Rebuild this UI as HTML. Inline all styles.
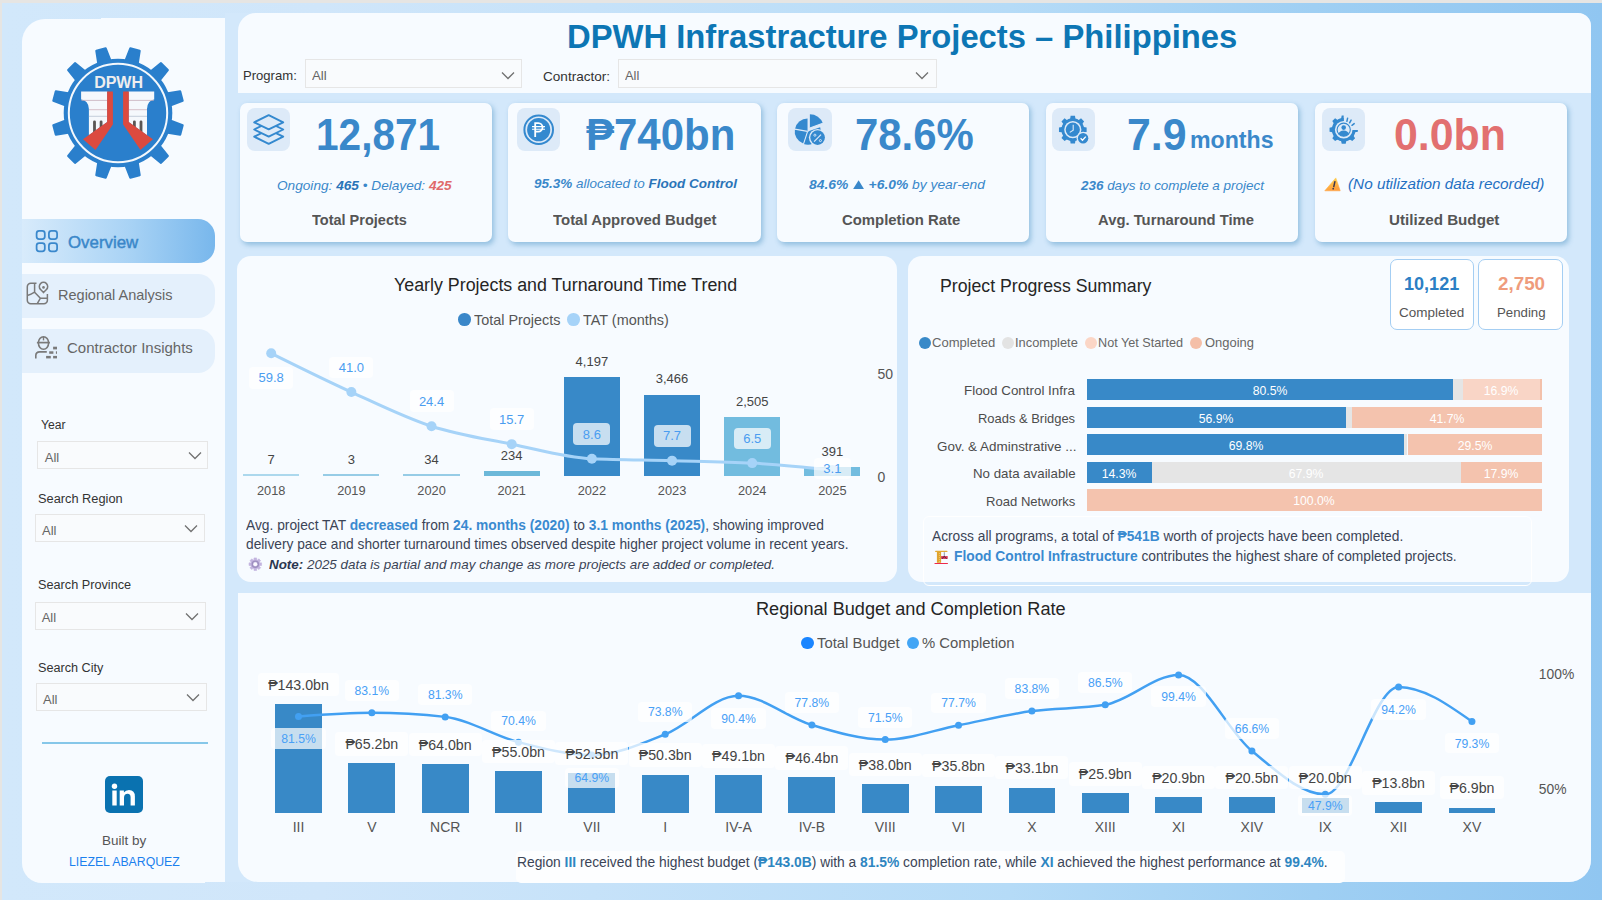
<!DOCTYPE html>
<html><head><meta charset="utf-8"><title>DPWH Infrastructure Projects</title>
<style>
html,body{margin:0;padding:0;width:1602px;height:902px;overflow:hidden;background:#fff}
body{position:relative;font-family:"Liberation Sans", sans-serif}
body>div{position:absolute}
.t{white-space:nowrap}
.t b{font-weight:bold}
</style></head><body>
<div style="left:0.00px;top:0.00px;width:1602.00px;height:902.00px;background:#ffffff"></div>
<div style="left:0.00px;top:0.00px;width:1602.00px;height:3.00px;background:#e6e5e3"></div>
<div style="left:0.00px;top:0.00px;width:2.00px;height:900.00px;background:#e6e5e3"></div>
<div style="left:2.00px;top:3.00px;width:1600.00px;height:897.00px;background:linear-gradient(90deg,#d2e8fb 0%,#d0e6fa 20%,#c6e2f9 37%,#b5dbf7 63%,#9fcff3 82%,#90c6f1 100%)"></div>
<div style="left:22.00px;top:18.90px;width:183.00px;height:864.00px;background:#f7fbff;border-radius:23px 0 0 20px"></div>
<div style="left:100.70px;top:17.90px;width:123.90px;height:863.90px;background:#f7fbff"></div>
<div style="left:224.90px;top:13.00px;width:1366.10px;height:868.50px;background:#d3e8fb;border-radius:0 13px 22px 0"></div>
<div style="left:238.00px;top:13.00px;width:1353.00px;height:80.00px;background:#f7fbff;border-radius:18px 13px 0 0"></div>
<div style="left:238.00px;top:592.50px;width:1353.00px;height:289.50px;background:#f7fbff;border-radius:0 0 22px 20px"></div>
<div class="t" style="left:567.38px;top:21px;font-size:32.5px;line-height:32.5px;color:#0d76b4;font-weight:bold;font-style:normal;transform-origin:0 0;transform:scaleX(1.0085);">DPWH Infrastracture Projects – Philippines</div>
<div class="t" style="left:243.08px;top:70px;font-size:12.8px;line-height:12.8px;color:#333;font-weight:normal;font-style:normal;transform-origin:0 0;transform:scaleX(1.0216);">Program:</div>
<div style="left:305.20px;top:58.90px;width:216.70px;height:28.80px;border:1px solid #e6e6e6;box-sizing:border-box;background:#f9fbfd"></div>
<svg style="position:absolute;left:500.8px;top:70.8px;" width="14" height="9" viewBox="0 0 14 9"><polyline points="1,1.5 7,7.5 13,1.5" fill="none" stroke="#707070" stroke-width="1.25"/></svg>
<div class="t" style="left:312.10px;top:69px;font-size:13.3px;line-height:13.3px;color:#666;font-weight:normal;font-style:normal;transform-origin:0 0;transform:scaleX(0.9929);">All</div>
<div class="t" style="left:542.90px;top:70px;font-size:13.5px;line-height:13.5px;color:#333;font-weight:normal;font-style:normal;transform-origin:0 0;transform:scaleX(1.0046);">Contractor:</div>
<div style="left:617.70px;top:58.90px;width:319.80px;height:28.80px;border:1px solid #e6e6e6;box-sizing:border-box;background:#f9fbfd"></div>
<svg style="position:absolute;left:915.3px;top:70.8px;" width="14" height="9" viewBox="0 0 14 9"><polyline points="1,1.5 7,7.5 13,1.5" fill="none" stroke="#707070" stroke-width="1.25"/></svg>
<div class="t" style="left:624.80px;top:69px;font-size:13.3px;line-height:13.3px;color:#666;font-weight:normal;font-style:normal;transform-origin:0 0;transform:scaleX(0.9643);">All</div>
<div style="left:239.60px;top:103.00px;width:252.40px;height:138.70px;background:#f7fbff;border-radius:7px;box-shadow:2px 2.5px 5px rgba(60,135,185,0.42)"></div>
<div style="left:247.00px;top:108.00px;width:43.40px;height:43.40px;background:#ddeaf8;border-radius:8px"></div>
<div style="left:508.30px;top:103.00px;width:252.40px;height:138.70px;background:#f7fbff;border-radius:7px;box-shadow:2px 2.5px 5px rgba(60,135,185,0.42)"></div>
<div style="left:516.80px;top:108.00px;width:43.40px;height:43.40px;background:#ddeaf8;border-radius:8px"></div>
<div style="left:777.00px;top:103.00px;width:252.40px;height:138.70px;background:#f7fbff;border-radius:7px;box-shadow:2px 2.5px 5px rgba(60,135,185,0.42)"></div>
<div style="left:788.30px;top:108.00px;width:43.40px;height:43.40px;background:#ddeaf8;border-radius:8px"></div>
<div style="left:1046.00px;top:103.00px;width:252.40px;height:138.70px;background:#f7fbff;border-radius:7px;box-shadow:2px 2.5px 5px rgba(60,135,185,0.42)"></div>
<div style="left:1052.10px;top:108.00px;width:43.40px;height:43.40px;background:#ddeaf8;border-radius:8px"></div>
<div style="left:1314.60px;top:103.00px;width:252.40px;height:138.70px;background:#f7fbff;border-radius:7px;box-shadow:2px 2.5px 5px rgba(60,135,185,0.42)"></div>
<div style="left:1322.00px;top:108.00px;width:43.40px;height:43.40px;background:#ddeaf8;border-radius:8px"></div>
<svg style="position:absolute;left:247px;top:108px;" width="44" height="44" viewBox="0 0 44 44"><polygon points="7.2,28.7 21.7,21.6 36.2,28.7 21.7,35.8" fill="#ddeaf8" stroke="#3489cf" stroke-width="1.9" stroke-linejoin="round"/><polygon points="7.2,21.5 21.7,14.4 36.2,21.5 21.7,28.6" fill="#ddeaf8" stroke="#3489cf" stroke-width="1.9" stroke-linejoin="round"/><polygon points="7.2,14.3 21.7,7.2 36.2,14.3 21.7,21.4" fill="#ddeaf8" stroke="#3489cf" stroke-width="1.9" stroke-linejoin="round"/></svg>
<svg style="position:absolute;left:516.8px;top:108px;" width="44" height="44" viewBox="0 0 44 44"><circle cx="21.7" cy="21.7" r="14.3" fill="none" stroke="#3489cf" stroke-width="2"/><circle cx="21.7" cy="21.7" r="11.6" fill="#3489cf"/><path d="M18.2,29.1 V15.1 H21.3 A4.25,4.25 0 0 1 21.3,23.6 H18.2" fill="none" stroke="#fff" stroke-width="1.8"/><path d="M15,18.6 H28 M15,21.2 H28" stroke="#fff" stroke-width="1.15"/></svg>
<svg style="position:absolute;left:788.3px;top:108px;" width="44" height="44" viewBox="0 0 44 44"><path d="M19.60,23.40 L6.90,21.16 A12.9,12.9 0 0 1 19.58,10.50 Z" fill="#3489cf"/><path d="M19.60,23.40 L15.61,35.67 A12.9,12.9 0 0 1 6.90,21.16 Z" fill="#3489cf"/><path d="M19.60,23.40 L32.15,19.32 A13.2,13.2 0 0 1 15.52,35.95 Z" fill="#3489cf"/><path d="M21.90,20.00 L21.90,6.20 A13.8,13.8 0 0 1 34.87,15.28 Z" fill="#3489cf"/><path d="M19.6,23.4 L3.84,20.62 M19.6,23.4 L14.66,38.62 M20.5,23.4 V5" stroke="#ddeaf8" stroke-width="1.1"/><path d="M21.9,20.0 L35.5,15.0" stroke="#ddeaf8" stroke-width="1.2"/><circle cx="29.6" cy="29.6" r="8.7" fill="#ddeaf8"/><circle cx="29.6" cy="29.6" r="7.3" fill="#3489cf"/><path d="M26.1,33.6 L33.0,26.6" stroke="#ddeaf8" stroke-width="1.2"/><circle cx="26.9" cy="27.2" r="1.05" fill="none" stroke="#ddeaf8" stroke-width="0.9"/><circle cx="32.4" cy="32.6" r="1.05" fill="none" stroke="#ddeaf8" stroke-width="0.9"/></svg>
<svg style="position:absolute;left:1052.1px;top:108px;" width="44" height="44" viewBox="0 0 44 44"><path d="M18.14,11.03 L18.61,7.87 L22.99,7.87 L23.46,11.03 L26.47,12.27 L29.03,10.37 L32.13,13.47 L30.23,16.03 L31.47,19.04 L34.63,19.51 L34.63,23.89 L31.47,24.36 L30.23,27.37 L32.13,29.93 L29.03,33.03 L26.47,31.13 L23.46,32.37 L22.99,35.53 L18.61,35.53 L18.14,32.37 L15.13,31.13 L12.57,33.03 L9.47,29.93 L11.37,27.37 L10.13,24.36 L6.97,23.89 L6.97,19.51 L10.13,19.04 L11.37,16.03 L9.47,13.47 L12.57,10.37 L15.13,12.27 Z" fill="#3489cf"/><circle cx="20.8" cy="21.7" r="11.4" fill="#3489cf"/><circle cx="20.8" cy="21.7" r="8.6" fill="#ddeaf8"/><circle cx="20.8" cy="21.7" r="7.1" fill="#3489cf"/><path d="M21.2,16.8 V22.2 L17.8,24.4" fill="none" stroke="#ddeaf8" stroke-width="1.1"/><circle cx="31.1" cy="30.2" r="6.5" fill="#ddeaf8"/><circle cx="31.1" cy="30.2" r="5.2" fill="#3489cf"/><path d="M28.6,30.3 L30.5,32.2 L33.8,28.6" fill="none" stroke="#fff" stroke-width="1.3"/></svg>
<svg style="position:absolute;left:1322.0px;top:108px;" width="44" height="44" viewBox="0 0 44 44"><clipPath id="gpc"><path d="M0,0 H21.7 V22.0 H44 V44 H0 Z"/></clipPath><g clip-path="url(#gpc)"><path d="M19.11,10.49 L19.71,7.54 L23.69,7.54 L24.29,10.49 L27.79,11.95 L30.31,10.28 L33.12,13.09 L31.45,15.61 L32.91,19.11 L35.86,19.71 L35.86,23.69 L32.91,24.29 L31.45,27.79 L33.12,30.31 L30.31,33.12 L27.79,31.45 L24.29,32.91 L23.69,35.86 L19.71,35.86 L19.11,32.91 L15.61,31.45 L13.09,33.12 L10.28,30.31 L11.95,27.79 L10.49,24.29 L7.54,23.69 L7.54,19.71 L10.49,19.11 L11.95,15.61 L10.28,13.09 L13.09,10.28 L15.61,11.95 Z" fill="#3489cf"/><circle cx="21.7" cy="21.7" r="11.8" fill="#3489cf"/></g><circle cx="21.7" cy="21.7" r="8.8" fill="#ddeaf8"/><circle cx="21.7" cy="21.7" r="6.6" fill="none" stroke="#3489cf" stroke-width="1.1"/><circle cx="21.7" cy="19.6" r="2.3" fill="#3489cf"/><path d="M16.4,26 Q17.6,22.8 21.7,22.6 Q25.8,22.8 27,26 Q24.5,28.2 21.7,28.2 Q18.9,28.2 16.4,26 Z" fill="#3489cf"/><path d="M25.6,10.2 L24.9,13.3 M29.1,12.1 L27.6,14.8 M32.2,15.6 L30,17.3" stroke="#3489cf" stroke-width="1.5" stroke-linecap="round"/></svg>
<div class="t" style="left:315.53px;top:113px;font-size:44px;line-height:44px;color:#3a88ca;font-weight:bold;font-style:normal;transform-origin:0 0;transform:scaleX(0.9229);">12,871</div>
<div class="t" style="left:586.20px;top:113px;font-size:44px;line-height:44px;color:#3a88ca;font-weight:bold;font-style:normal;transform-origin:0 0;transform:scaleX(0.9539);">₱740bn</div>
<div class="t" style="left:855.30px;top:113px;font-size:44px;line-height:44px;color:#3a88ca;font-weight:bold;font-style:normal;transform-origin:0 0;transform:scaleX(0.9525);">78.6%</div>
<div class="t" style="left:1127.06px;top:113px;font-size:44px;line-height:44px;color:#3a88ca;font-weight:bold;font-style:normal;transform-origin:0 0;transform:scaleX(0.9724);">7.9</div>
<div class="t" style="left:1189.74px;top:128px;font-size:24px;line-height:24px;color:#3a88ca;font-weight:bold;font-style:normal;transform-origin:0 0;transform:scaleX(0.9635);">months</div>
<div class="t" style="left:1394.05px;top:113px;font-size:44px;line-height:44px;color:#e27070;font-weight:bold;font-style:normal;transform-origin:0 0;transform:scaleX(0.9736);">0.0bn</div>
<div class="t" style="left:277.49px;top:179px;font-size:13.5px;line-height:13.5px;color:#3a88ca;font-weight:normal;font-style:italic;transform-origin:0 0;transform:scaleX(1.0105);">Ongoing: <b style="color:#2a74b8">465</b> • Delayed: <b style="color:#e06a6a">425</b></div>
<div class="t" style="left:533.80px;top:177px;font-size:13.5px;line-height:13.5px;color:#3a88ca;font-weight:normal;font-style:italic;transform-origin:0 0;transform:scaleX(0.9980);"><b>95.3%</b> allocated to <b style="color:#2a74b8">Flood Control</b></div>
<div class="t" style="left:809.00px;top:178px;font-size:13.6px;line-height:13.6px;color:#3a88ca;font-weight:normal;font-style:italic;transform-origin:0 0;transform:scaleX(1.0173);"><b>84.6% <svg width="11.5" height="9.5" viewBox="0 0 11.5 9.5" style="vertical-align:0;margin:0 0.5px"><path d="M5.75,0.2 L11.4,9.5 H0.1 Z" fill="currentColor"/></svg> +6.0%</b> by year-end</div>
<div class="t" style="left:1081.00px;top:179px;font-size:13.5px;line-height:13.5px;color:#3a88ca;font-weight:normal;font-style:italic;transform-origin:0 0;transform:scaleX(0.9946);"><b>236</b> days to complete a project</div>
<div class="t" style="left:1347.67px;top:177px;font-size:14.8px;line-height:14.8px;color:#1f70c2;font-weight:normal;font-style:italic;transform-origin:0 0;transform:scaleX(1.0330);">(No utilization data recorded)</div>
<svg style="position:absolute;left:1320px;top:172px;" width="30" height="24" viewBox="0 0 30 24"><defs><linearGradient id="wg" x1="0" y1="0" x2="0.3" y2="1"><stop offset="0" stop-color="#ffd84e"/><stop offset="1" stop-color="#ff9f3e"/></linearGradient></defs><path d="M15.8,5.9 L4.8,18.8 H20.2 Z" fill="url(#wg)" stroke="url(#wg)" stroke-width="0.6" stroke-linejoin="round"/><path d="M14.9,9.7 L13.8,14.6" stroke="#3a3550" stroke-width="1.5" stroke-linecap="round"/><circle cx="13.2" cy="16.7" r="0.85" fill="#3a3550"/></svg>
<div class="t" style="left:311.60px;top:213px;font-size:14.9px;line-height:14.9px;color:#555;font-weight:bold;font-style:normal;transform-origin:0 0;transform:scaleX(0.9742);">Total Projects</div>
<div class="t" style="left:552.50px;top:213px;font-size:14.9px;line-height:14.9px;color:#555;font-weight:bold;font-style:normal;transform-origin:0 0;transform:scaleX(1.0031);">Total Approved Budget</div>
<div class="t" style="left:842.00px;top:213px;font-size:14.9px;line-height:14.9px;color:#555;font-weight:bold;font-style:normal;transform-origin:0 0;transform:scaleX(1.0000);">Completion Rate</div>
<div class="t" style="left:1097.90px;top:213px;font-size:14.9px;line-height:14.9px;color:#555;font-weight:bold;font-style:normal;transform-origin:0 0;transform:scaleX(0.9943);">Avg. Turnaround Time</div>
<div class="t" style="left:1388.98px;top:213px;font-size:14.9px;line-height:14.9px;color:#555;font-weight:bold;font-style:normal;transform-origin:0 0;transform:scaleX(1.0187);">Utilized Budget</div>
<svg style="position:absolute;left:0px;top:0px;" width="230" height="200" viewBox="0 0 230 200"><path d="M125.24,61.51 L130.33,48.37 L139.64,50.86 L137.48,64.79 L150.01,72.02 L161.00,63.19 L167.81,70.00 L158.98,80.99 L166.21,93.52 L180.14,91.36 L182.63,100.67 L169.49,105.76 L169.49,120.24 L182.63,125.33 L180.14,134.64 L166.21,132.48 L158.98,145.01 L167.81,156.00 L161.00,162.81 L150.01,153.98 L137.48,161.21 L139.64,175.14 L130.33,177.63 L125.24,164.49 L110.76,164.49 L105.67,177.63 L96.36,175.14 L98.52,161.21 L85.99,153.98 L75.00,162.81 L68.19,156.00 L77.02,145.01 L69.79,132.48 L55.86,134.64 L53.37,125.33 L66.51,120.24 L66.51,105.76 L53.37,100.67 L55.86,91.36 L69.79,93.52 L77.02,80.99 L68.19,70.00 L75.00,63.19 L85.99,72.02 L98.52,64.79 L96.36,50.86 L105.67,48.37 L110.76,61.51 Z" fill="#2a7fcc" stroke="#2a7fcc" stroke-width="2.2" stroke-linejoin="round"/><circle cx="118.0" cy="113.0" r="54.3" fill="#2a7fcc"/><circle cx="118.0" cy="113.0" r="49.2" fill="none" stroke="#f4f8fc" stroke-width="2"/><path d="M81.1,91.5 H107.3 V122.1 L88.9,135.3 V108.9 A7.8,9.3 0 0 0 81.1,99.6 Z" fill="#f5f8fc"/><path d="M154.2,91.5 H128.6 V122.1 L147,135.3 V108.9 A7.2,9.3 0 0 1 154.2,99.6 Z" fill="#f5f8fc"/><path d="M81.5,100.4 H107 M128.9,100.4 H153.8" stroke="#c7aebb" stroke-width="0.8"/><path d="M88.9,109.7 H107 M128.9,109.7 H147" stroke="#cdb1bd" stroke-width="0.8"/><path d="M88.9,116.3 H107 M128.9,116.3 H147" stroke="#b9c2d2" stroke-width="0.8"/><path d="M94.5,121.8 V132 M101.1,121.8 V128 M134.4,121.8 V128 M141,121.8 V132" stroke="#5b5654" stroke-width="2.8" stroke-linecap="round"/><path d="M107.1,91.5 H112.9 V124.5 L95.5,150.1 L83,139.2 L107.1,122.1 Z" fill="#dc4a3f"/><path d="M128.8,91.5 H123.1 V124.5 L140.5,150.1 L152.9,139.2 L128.8,122.1 Z" fill="#dc4a3f"/><text x="118.6" y="87.9" font-family="Liberation Sans" font-weight="bold" font-size="16" fill="#eeeeee" text-anchor="middle">DPWH</text></svg>
<div style="left:22.00px;top:219.00px;width:192.70px;height:43.90px;background:linear-gradient(90deg,#d8ebfb 0%,#a9d3f5 55%,#78b7ec 100%);border-radius:0 17px 17px 0"></div>
<div style="left:22.00px;top:274.00px;width:192.70px;height:43.90px;background:#e4f0fc;border-radius:0 17px 17px 0"></div>
<div style="left:22.00px;top:329.00px;width:192.70px;height:43.90px;background:#e4f0fc;border-radius:0 17px 17px 0"></div>
<svg style="position:absolute;left:30px;top:225px;" width="34" height="34" viewBox="0 0 34 34"><rect x="6.60" y="5.90" width="8.2" height="8.2" rx="2.5" fill="none" stroke="#3a88cc" stroke-width="1.75"/><rect x="18.90" y="5.90" width="8.2" height="8.2" rx="2.5" fill="none" stroke="#3a88cc" stroke-width="1.75"/><rect x="6.60" y="18.10" width="8.2" height="8.2" rx="2.5" fill="none" stroke="#3a88cc" stroke-width="1.75"/><rect x="18.90" y="18.10" width="8.2" height="8.2" rx="2.5" fill="none" stroke="#3a88cc" stroke-width="1.75"/></svg>
<div class="t" style="left:68.00px;top:235px;font-size:16.9px;line-height:16.9px;color:#3a87c9;font-weight:normal;font-style:normal;transform-origin:0 0;transform:scaleX(0.9971);-webkit-text-stroke:0.45px #3a87c9">Overview</div>
<svg style="position:absolute;left:22px;top:278px;" width="32" height="32" viewBox="0 0 32 32"><path d="M14.5,5.3 H8.8 A3.5,3.5 0 0 0 5.3,8.8 V22.2 A3.5,3.5 0 0 0 8.8,25.7 H21.9 A3.5,3.5 0 0 0 25.4,22.2 V16.1" fill="none" stroke="#7a7a7a" stroke-width="1.5"/><path d="M12.6,5.3 V14.2 M12.6,14.2 Q9,16.6 5.3,17.4 M12.6,14.2 L18.4,20.2 H25.4 M18.4,20.2 L15.3,25.7" fill="none" stroke="#7a7a7a" stroke-width="1.5"/><path d="M21.5,14.6 L18.6,11.6 A4.2,4.2 0 1 1 24.4,11.6 Z" fill="none" stroke="#7a7a7a" stroke-width="1.5" stroke-linejoin="round"/><circle cx="21.5" cy="9.4" r="1.3" fill="#7a7a7a"/></svg>
<div class="t" style="left:57.91px;top:288px;font-size:14.6px;line-height:14.6px;color:#666;font-weight:normal;font-style:normal;transform-origin:0 0;transform:scaleX(0.9947);">Regional Analysis</div>
<svg style="position:absolute;left:30px;top:332px;" width="32" height="32" viewBox="0 0 32 32"><ellipse cx="13.5" cy="11" rx="5.1" ry="6.3" fill="none" stroke="#7a7a7a" stroke-width="1.6"/><path d="M6.9,10.6 H19.9" stroke="#7a7a7a" stroke-width="1.7"/><path d="M13.5,4.8 V8.4" stroke="#7a7a7a" stroke-width="1.4"/><path d="M5.8,26.4 V23.6 Q5.8,19.9 9.8,19.9 H16.8" fill="none" stroke="#7a7a7a" stroke-width="1.6"/><g fill="#7a7a7a"><rect x="23.1" y="14.7" width="3.9" height="2.7"/><rect x="19.2" y="19.3" width="4.2" height="2.5"/><rect x="25.9" y="19.3" width="1.1" height="2.5"/><rect x="16.1" y="23.9" width="4.7" height="2.5"/><rect x="23.1" y="23.9" width="3.9" height="2.5"/></g></svg>
<div class="t" style="left:66.77px;top:341px;font-size:14.6px;line-height:14.6px;color:#666;font-weight:normal;font-style:normal;transform-origin:0 0;transform:scaleX(1.0273);">Contractor Insights</div>
<div class="t" style="left:40.90px;top:419px;font-size:12.5px;line-height:12.5px;color:#333;font-weight:normal;font-style:normal;transform-origin:0 0;transform:scaleX(0.9720);">Year</div>
<div style="left:37.40px;top:441.30px;width:171.00px;height:28.20px;border:1px solid #e6e6e6;box-sizing:border-box;background:#f9fbfd"></div>
<svg style="position:absolute;left:187.5px;top:451.40000000000003px;" width="14" height="9" viewBox="0 0 14 9"><polyline points="1,1.5 7,7.5 13,1.5" fill="none" stroke="#707070" stroke-width="1.25"/></svg>
<div class="t" style="left:44.80px;top:451px;font-size:13px;line-height:13px;color:#666;font-weight:normal;font-style:normal;">All</div>
<div class="t" style="left:37.58px;top:493px;font-size:12.5px;line-height:12.5px;color:#333;font-weight:normal;font-style:normal;transform-origin:0 0;transform:scaleX(1.0235);">Search Region</div>
<div style="left:35.40px;top:514.40px;width:169.40px;height:28.00px;border:1px solid #e6e6e6;box-sizing:border-box;background:#f9fbfd"></div>
<svg style="position:absolute;left:183.5px;top:524.4px;" width="14" height="9" viewBox="0 0 14 9"><polyline points="1,1.5 7,7.5 13,1.5" fill="none" stroke="#707070" stroke-width="1.25"/></svg>
<div class="t" style="left:42.00px;top:524px;font-size:13px;line-height:13px;color:#666;font-weight:normal;font-style:normal;">All</div>
<div class="t" style="left:37.78px;top:579px;font-size:12.5px;line-height:12.5px;color:#333;font-weight:normal;font-style:normal;transform-origin:0 0;transform:scaleX(1.0156);">Search Province</div>
<div style="left:35.10px;top:601.50px;width:170.50px;height:28.00px;border:1px solid #e6e6e6;box-sizing:border-box;background:#f9fbfd"></div>
<svg style="position:absolute;left:184.5px;top:611.5px;" width="14" height="9" viewBox="0 0 14 9"><polyline points="1,1.5 7,7.5 13,1.5" fill="none" stroke="#707070" stroke-width="1.25"/></svg>
<div class="t" style="left:41.70px;top:611px;font-size:13px;line-height:13px;color:#666;font-weight:normal;font-style:normal;">All</div>
<div class="t" style="left:38.49px;top:662px;font-size:12.5px;line-height:12.5px;color:#333;font-weight:normal;font-style:normal;transform-origin:0 0;transform:scaleX(1.0125);">Search City</div>
<div style="left:36.20px;top:682.60px;width:170.50px;height:28.60px;border:1px solid #e6e6e6;box-sizing:border-box;background:#f9fbfd"></div>
<svg style="position:absolute;left:185.5px;top:692.9px;" width="14" height="9" viewBox="0 0 14 9"><polyline points="1,1.5 7,7.5 13,1.5" fill="none" stroke="#707070" stroke-width="1.25"/></svg>
<div class="t" style="left:43.00px;top:693px;font-size:13px;line-height:13px;color:#666;font-weight:normal;font-style:normal;">All</div>
<div style="left:41.70px;top:741.60px;width:166.30px;height:2.60px;background:#86c7e9"></div>
<div style="left:105.40px;top:776.40px;width:38.10px;height:37.10px;background:#0a72b0;border-radius:5px"></div>
<svg style="position:absolute;left:105.4px;top:776.4px;" width="39" height="38" viewBox="0 0 39 38"><circle cx="9.5" cy="10.2" r="2.7" fill="#fff"/><rect x="7.3" y="14.5" width="4.4" height="15" fill="#fff"/><path d="M14.7,29.5 V14.5 H18.9 V16.6 Q20.6,14.1 24,14.1 Q29.9,14.1 29.9,20.6 V29.5 H25.6 V21.5 Q25.6,17.8 22.7,17.8 Q19,17.8 19,21.8 V29.5 Z" fill="#fff"/></svg>
<div class="t" style="left:101.79px;top:834px;font-size:13.4px;line-height:13.4px;color:#555;font-weight:normal;font-style:normal;transform-origin:0 0;transform:scaleX(1.0070);">Built by</div>
<div class="t" style="left:68.90px;top:856px;font-size:12.3px;line-height:12.3px;color:#1b80ee;font-weight:normal;font-style:normal;transform-origin:0 0;transform:scaleX(0.9982);">LIEZEL ABARQUEZ</div>
<div style="left:237.20px;top:255.50px;width:660.00px;height:326.30px;background:#f7fbff;border-radius:14px"></div>
<div class="t" style="left:393.71px;top:276px;font-size:18px;line-height:18px;color:#252525;font-weight:normal;font-style:normal;transform-origin:0 0;transform:scaleX(0.9904);">Yearly Projects and Turnaround Time Trend</div>
<div style="left:458.20px;top:313.10px;width:12.60px;height:12.60px;background:#3a87c9;border-radius:50%"></div>
<div class="t" style="left:473.70px;top:313px;font-size:14.4px;line-height:14.4px;color:#555;font-weight:normal;font-style:normal;transform-origin:0 0;transform:scaleX(1.0012);">Total Projects</div>
<div style="left:567.20px;top:313.10px;width:12.60px;height:12.60px;background:#a6d3f8;border-radius:50%"></div>
<div class="t" style="left:582.80px;top:313px;font-size:14.4px;line-height:14.4px;color:#555;font-weight:normal;font-style:normal;transform-origin:0 0;transform:scaleX(1.0024);">TAT (months)</div>
<div style="left:243.10px;top:474.30px;width:56.20px;height:2.20px;background:#acd8ed"></div>
<div style="left:323.27px;top:474.30px;width:56.20px;height:2.20px;background:#96cce6"></div>
<div style="left:403.44px;top:474.30px;width:56.20px;height:2.20px;background:#96cce6"></div>
<div style="left:483.61px;top:470.98px;width:56.20px;height:5.52px;background:#6cb8d9"></div>
<div style="left:563.78px;top:377.49px;width:56.20px;height:99.01px;background:#3889c8"></div>
<div style="left:643.95px;top:394.74px;width:56.20px;height:81.76px;background:#3889c8"></div>
<div style="left:724.12px;top:417.41px;width:56.20px;height:59.09px;background:#72bcdf"></div>
<div style="left:804.29px;top:467.28px;width:56.20px;height:9.22px;background:#72bcdf"></div>
<div class="t" style="left:-228.80px;width:1000px;text-align:center;top:453px;font-size:13px;line-height:13px;color:#444;font-weight:normal;font-style:normal;">7</div>
<div class="t" style="left:-148.63px;width:1000px;text-align:center;top:453px;font-size:13px;line-height:13px;color:#444;font-weight:normal;font-style:normal;">3</div>
<div class="t" style="left:-68.46px;width:1000px;text-align:center;top:453px;font-size:13px;line-height:13px;color:#444;font-weight:normal;font-style:normal;">34</div>
<div class="t" style="left:11.71px;width:1000px;text-align:center;top:449px;font-size:13px;line-height:13px;color:#444;font-weight:normal;font-style:normal;">234</div>
<div class="t" style="left:91.88px;width:1000px;text-align:center;top:355px;font-size:13px;line-height:13px;color:#444;font-weight:normal;font-style:normal;">4,197</div>
<div class="t" style="left:172.05px;width:1000px;text-align:center;top:372px;font-size:13px;line-height:13px;color:#444;font-weight:normal;font-style:normal;">3,466</div>
<div class="t" style="left:252.22px;width:1000px;text-align:center;top:395px;font-size:13px;line-height:13px;color:#444;font-weight:normal;font-style:normal;">2,505</div>
<div class="t" style="left:332.39px;width:1000px;text-align:center;top:445px;font-size:13px;line-height:13px;color:#444;font-weight:normal;font-style:normal;">391</div>
<div class="t" style="left:-228.80px;width:1000px;text-align:center;top:485px;font-size:12.8px;line-height:12.8px;color:#555;font-weight:normal;font-style:normal;">2018</div>
<div class="t" style="left:-148.63px;width:1000px;text-align:center;top:485px;font-size:12.8px;line-height:12.8px;color:#555;font-weight:normal;font-style:normal;">2019</div>
<div class="t" style="left:-68.46px;width:1000px;text-align:center;top:485px;font-size:12.8px;line-height:12.8px;color:#555;font-weight:normal;font-style:normal;">2020</div>
<div class="t" style="left:11.71px;width:1000px;text-align:center;top:485px;font-size:12.8px;line-height:12.8px;color:#555;font-weight:normal;font-style:normal;">2021</div>
<div class="t" style="left:91.88px;width:1000px;text-align:center;top:485px;font-size:12.8px;line-height:12.8px;color:#555;font-weight:normal;font-style:normal;">2022</div>
<div class="t" style="left:172.05px;width:1000px;text-align:center;top:485px;font-size:12.8px;line-height:12.8px;color:#555;font-weight:normal;font-style:normal;">2023</div>
<div class="t" style="left:252.22px;width:1000px;text-align:center;top:485px;font-size:12.8px;line-height:12.8px;color:#555;font-weight:normal;font-style:normal;">2024</div>
<div class="t" style="left:332.39px;width:1000px;text-align:center;top:485px;font-size:12.8px;line-height:12.8px;color:#555;font-weight:normal;font-style:normal;">2025</div>
<div class="t" style="left:877.40px;top:367px;font-size:14px;line-height:14px;color:#555;font-weight:normal;font-style:normal;">50</div>
<div class="t" style="left:877.40px;top:470px;font-size:14px;line-height:14px;color:#555;font-weight:normal;font-style:normal;">0</div>
<svg style="position:absolute;left:0px;top:0px;pointer-events:none" width="1602" height="902" viewBox="0 0 1602 902"><path d="M271.20,353.31 C297.92,366.60 324.65,379.89 351.37,392.04 C378.09,404.19 404.82,417.55 431.54,426.24 C458.26,434.92 484.99,438.73 511.71,444.16 C538.43,449.58 565.16,457.55 591.88,458.78 C618.60,460.02 645.33,459.92 672.05,460.64 C698.77,461.36 725.50,461.53 752.22,463.11 C778.94,464.69 805.67,467.40 832.39,470.11" fill="none" stroke="#a6d3f8" stroke-width="3"/><circle cx="271.20" cy="353.31" r="5" fill="#a6d3f8"/><circle cx="351.37" cy="392.04" r="5" fill="#a6d3f8"/><circle cx="431.54" cy="426.24" r="5" fill="#a6d3f8"/><circle cx="511.71" cy="444.16" r="5" fill="#a6d3f8"/><circle cx="591.88" cy="458.78" r="5" fill="#a6d3f8"/><circle cx="672.05" cy="460.64" r="5" fill="#a6d3f8"/><circle cx="752.22" cy="463.11" r="5" fill="#a6d3f8"/><circle cx="832.39" cy="470.11" r="5" fill="#a6d3f8"/></svg>
<div style="left:249.20px;top:367.10px;width:44.00px;height:21.60px;background:rgba(255,255,255,0.72);border-radius:4px"></div>
<div class="t" style="left:-228.80px;width:1000px;text-align:center;top:371px;font-size:13px;line-height:13px;color:#4b9df0;font-weight:normal;font-style:normal;">59.8</div>
<div style="left:329.37px;top:356.50px;width:44.00px;height:21.60px;background:rgba(255,255,255,0.72);border-radius:4px"></div>
<div class="t" style="left:-148.63px;width:1000px;text-align:center;top:361px;font-size:13px;line-height:13px;color:#4b9df0;font-weight:normal;font-style:normal;">41.0</div>
<div style="left:409.54px;top:390.40px;width:44.00px;height:21.60px;background:rgba(255,255,255,0.72);border-radius:4px"></div>
<div class="t" style="left:-68.46px;width:1000px;text-align:center;top:395px;font-size:13px;line-height:13px;color:#4b9df0;font-weight:normal;font-style:normal;">24.4</div>
<div style="left:489.71px;top:408.40px;width:44.00px;height:21.60px;background:rgba(255,255,255,0.72);border-radius:4px"></div>
<div class="t" style="left:11.71px;width:1000px;text-align:center;top:413px;font-size:13px;line-height:13px;color:#4b9df0;font-weight:normal;font-style:normal;">15.7</div>
<div style="left:573.38px;top:423.20px;width:37.00px;height:21.60px;background:rgba(255,255,255,0.72);border-radius:4px"></div>
<div class="t" style="left:91.88px;width:1000px;text-align:center;top:428px;font-size:13px;line-height:13px;color:#4b9df0;font-weight:normal;font-style:normal;">8.6</div>
<div style="left:653.55px;top:425.00px;width:37.00px;height:21.60px;background:rgba(255,255,255,0.72);border-radius:4px"></div>
<div class="t" style="left:172.05px;width:1000px;text-align:center;top:429px;font-size:13px;line-height:13px;color:#4b9df0;font-weight:normal;font-style:normal;">7.7</div>
<div style="left:733.72px;top:427.50px;width:37.00px;height:21.60px;background:rgba(255,255,255,0.72);border-radius:4px"></div>
<div class="t" style="left:252.22px;width:1000px;text-align:center;top:432px;font-size:13px;line-height:13px;color:#4b9df0;font-weight:normal;font-style:normal;">6.5</div>
<div style="left:813.89px;top:457.90px;width:37.00px;height:21.60px;background:rgba(255,255,255,0.72);border-radius:4px"></div>
<div class="t" style="left:332.39px;width:1000px;text-align:center;top:462px;font-size:13px;line-height:13px;color:#4b9df0;font-weight:normal;font-style:normal;">3.1</div>
<div class="t" style="left:246.20px;top:519px;font-size:13.9px;line-height:13.9px;color:#3b4456;font-weight:normal;font-style:normal;transform-origin:0 0;transform:scaleX(0.9923);">Avg. project TAT <b style="color:#3a8ad0">decreased</b> from <b style="color:#3a8ad0">24. months (2020)</b> to <b style="color:#3a8ad0">3.1 months (2025)</b>, showing improved</div>
<div class="t" style="left:246.20px;top:538px;font-size:13.9px;line-height:13.9px;color:#3b4456;font-weight:normal;font-style:normal;transform-origin:0 0;transform:scaleX(0.9891);">delivery pace and shorter turnaround times observed despite higher project volume in recent years.</div>
<div class="t" style="left:269.00px;top:558px;font-size:13.6px;line-height:13.6px;color:#3b4456;font-weight:normal;font-style:italic;transform-origin:0 0;transform:scaleX(0.9863);"><b style="color:#2b3650">Note:</b> 2025 data is partial and may change as more projects are added or completed.</div>
<svg style="position:absolute;left:244px;top:554px;" width="22" height="22" viewBox="0 0 22 22"><path d="M10.01,5.99 L9.97,3.94 L12.63,3.94 L12.59,5.99 L13.37,6.32 L14.79,4.83 L16.67,6.71 L15.18,8.13 L15.51,8.91 L17.56,8.87 L17.56,11.53 L15.51,11.49 L15.18,12.27 L16.67,13.69 L14.79,15.57 L13.37,14.08 L12.59,14.41 L12.63,16.46 L9.97,16.46 L10.01,14.41 L9.23,14.08 L7.81,15.57 L5.93,13.69 L7.42,12.27 L7.09,11.49 L5.04,11.53 L5.04,8.87 L7.09,8.91 L7.42,8.13 L5.93,6.71 L7.81,4.83 L9.23,6.32 Z" fill="#c3b4df" stroke="#c3b4df" stroke-width="0.6" stroke-linejoin="round"/><circle cx="11.3" cy="10.2" r="4.6" fill="#c3b4df"/><circle cx="11.3" cy="10.2" r="3.1" fill="none" stroke="#9d8fbf" stroke-width="1.3"/><circle cx="11.3" cy="10.2" r="1.9" fill="#fbfaff"/></svg>
<div style="left:908.00px;top:255.50px;width:660.50px;height:326.30px;background:#f7fbff;border-radius:14px"></div>
<div class="t" style="left:939.94px;top:277px;font-size:18.5px;line-height:18.5px;color:#252525;font-weight:normal;font-style:normal;transform-origin:0 0;transform:scaleX(0.9564);">Project Progress Summary</div>
<div style="left:1389.70px;top:259.30px;width:84.30px;height:71.20px;background:#fff;border:1px solid #a4cef3;border-radius:7px;box-sizing:border-box"></div>
<div style="left:1478.40px;top:259.30px;width:84.40px;height:71.20px;background:#fff;border:1px solid #a4cef3;border-radius:7px;box-sizing:border-box"></div>
<div class="t" style="left:1403.68px;top:276px;font-size:17.8px;line-height:17.8px;color:#2c7fc4;font-weight:bold;font-style:normal;transform-origin:0 0;transform:scaleX(1.0151);">10,121</div>
<div class="t" style="left:1398.80px;top:306px;font-size:13.5px;line-height:13.5px;color:#555;font-weight:normal;font-style:normal;transform-origin:0 0;transform:scaleX(0.9984);">Completed</div>
<div class="t" style="left:1497.50px;top:275px;font-size:18.6px;line-height:18.6px;color:#ef9c7c;font-weight:bold;font-style:normal;transform-origin:0 0;transform:scaleX(1.0109);">2,750</div>
<div class="t" style="left:1496.50px;top:306px;font-size:13.3px;line-height:13.3px;color:#555;font-weight:normal;font-style:normal;transform-origin:0 0;transform:scaleX(0.9957);">Pending</div>
<div style="left:918.60px;top:336.50px;width:12.40px;height:12.40px;background:#3889c8;border-radius:50%"></div>
<div class="t" style="left:932.26px;top:337px;font-size:12.6px;line-height:12.6px;color:#666;font-weight:normal;font-style:normal;transform-origin:0 0;transform:scaleX(1.0373);">Completed</div>
<div style="left:1001.60px;top:336.50px;width:12.40px;height:12.40px;background:#e3e3e3;border-radius:50%"></div>
<div class="t" style="left:1014.98px;top:337px;font-size:12.6px;line-height:12.6px;color:#666;font-weight:normal;font-style:normal;transform-origin:0 0;transform:scaleX(1.0200);">Incomplete</div>
<div style="left:1084.60px;top:336.50px;width:12.40px;height:12.40px;background:#fbd6c6;border-radius:50%"></div>
<div class="t" style="left:1097.90px;top:337px;font-size:12.6px;line-height:12.6px;color:#666;font-weight:normal;font-style:normal;transform-origin:0 0;transform:scaleX(1.0048);">Not Yet Started</div>
<div style="left:1189.60px;top:336.50px;width:12.40px;height:12.40px;background:#f4bfa8;border-radius:50%"></div>
<div class="t" style="left:1204.70px;top:337px;font-size:12.6px;line-height:12.6px;color:#666;font-weight:normal;font-style:normal;transform-origin:0 0;transform:scaleX(1.0277);">Ongoing</div>
<div class="t" style="left:964.39px;top:384px;font-size:13.3px;line-height:13.3px;color:#4c4c4c;font-weight:normal;font-style:normal;transform-origin:0 0;transform:scaleX(1.0073);">Flood Control Infra</div>
<div style="left:1086.80px;top:379.10px;width:366.19px;height:21.20px;background:#3889c8"></div>
<div class="t" style="left:769.90px;width:1000px;text-align:center;top:384px;font-size:13.3px;line-height:13.3px;color:#fff;font-weight:normal;font-style:normal;transform:scaleX(0.92);">80.5%</div>
<div style="left:1452.99px;top:379.10px;width:10.01px;height:21.20px;background:#e5e5e5"></div>
<div style="left:1463.00px;top:379.10px;width:76.88px;height:21.20px;background:#f9d5c6"></div>
<div class="t" style="left:1001.44px;width:1000px;text-align:center;top:384px;font-size:13.3px;line-height:13.3px;color:#fff;font-weight:normal;font-style:normal;transform:scaleX(0.92);">16.9%</div>
<div style="left:1539.88px;top:379.10px;width:1.82px;height:21.20px;background:#f3c1ab"></div>
<div class="t" style="left:977.93px;top:412px;font-size:13.3px;line-height:13.3px;color:#4c4c4c;font-weight:normal;font-style:normal;transform-origin:0 0;transform:scaleX(0.9727);">Roads &amp; Bridges</div>
<div style="left:1086.80px;top:406.90px;width:258.84px;height:21.20px;background:#3889c8"></div>
<div class="t" style="left:716.22px;width:1000px;text-align:center;top:412px;font-size:13.3px;line-height:13.3px;color:#fff;font-weight:normal;font-style:normal;transform:scaleX(0.92);">56.9%</div>
<div style="left:1345.64px;top:406.90px;width:6.37px;height:21.20px;background:#e5e5e5"></div>
<div style="left:1352.01px;top:406.90px;width:189.69px;height:21.20px;background:#f4c3ae"></div>
<div class="t" style="left:946.85px;width:1000px;text-align:center;top:412px;font-size:13.3px;line-height:13.3px;color:#fff;font-weight:normal;font-style:normal;transform:scaleX(0.92);">41.7%</div>
<div class="t" style="left:936.79px;top:440px;font-size:13.3px;line-height:13.3px;color:#4c4c4c;font-weight:normal;font-style:normal;transform-origin:0 0;transform:scaleX(1.0103);">Gov. &amp; Adminstrative ...</div>
<div style="left:1086.80px;top:434.30px;width:317.52px;height:21.20px;background:#3889c8"></div>
<div class="t" style="left:745.56px;width:1000px;text-align:center;top:439px;font-size:13.3px;line-height:13.3px;color:#fff;font-weight:normal;font-style:normal;transform:scaleX(0.92);">69.8%</div>
<div style="left:1404.32px;top:434.30px;width:3.18px;height:21.20px;background:#e5e5e5"></div>
<div style="left:1407.50px;top:434.30px;width:134.20px;height:21.20px;background:#f4c3ae"></div>
<div class="t" style="left:974.60px;width:1000px;text-align:center;top:439px;font-size:13.3px;line-height:13.3px;color:#fff;font-weight:normal;font-style:normal;transform:scaleX(0.92);">29.5%</div>
<div class="t" style="left:973.30px;top:467px;font-size:13.3px;line-height:13.3px;color:#4c4c4c;font-weight:normal;font-style:normal;transform-origin:0 0;transform:scaleX(0.9990);">No data available</div>
<div style="left:1086.80px;top:462.00px;width:65.05px;height:21.20px;background:#3889c8"></div>
<div class="t" style="left:619.33px;width:1000px;text-align:center;top:467px;font-size:13.3px;line-height:13.3px;color:#fff;font-weight:normal;font-style:normal;transform:scaleX(0.92);">14.3%</div>
<div style="left:1151.85px;top:462.00px;width:308.88px;height:21.20px;background:#e5e5e5"></div>
<div class="t" style="left:806.29px;width:1000px;text-align:center;top:467px;font-size:13.3px;line-height:13.3px;color:#fff;font-weight:normal;font-style:normal;transform:scaleX(0.92);">67.9%</div>
<div style="left:1460.73px;top:462.00px;width:80.97px;height:21.20px;background:#f4c3ae"></div>
<div class="t" style="left:1001.21px;width:1000px;text-align:center;top:467px;font-size:13.3px;line-height:13.3px;color:#fff;font-weight:normal;font-style:normal;transform:scaleX(0.92);">17.9%</div>
<div class="t" style="left:985.72px;top:495px;font-size:13.3px;line-height:13.3px;color:#4c4c4c;font-weight:normal;font-style:normal;transform-origin:0 0;transform:scaleX(0.9833);">Road Networks</div>
<div style="left:1086.80px;top:489.40px;width:454.90px;height:21.20px;background:#f4c3ae"></div>
<div class="t" style="left:814.25px;width:1000px;text-align:center;top:494px;font-size:13.3px;line-height:13.3px;color:#fff;font-weight:normal;font-style:normal;transform:scaleX(0.92);">100.0%</div>
<div style="left:922.60px;top:515.50px;width:609.20px;height:70.80px;background:transparent;border:1px solid #ffffff;border-radius:6px;box-sizing:border-box"></div>
<div class="t" style="left:932.20px;top:530px;font-size:13.8px;line-height:13.8px;color:#3b4456;font-weight:normal;font-style:normal;transform-origin:0 0;transform:scaleX(0.9958);">Across all programs, a total of <b style="color:#3a8ad0">₱541B</b> worth of projects have been completed.</div>
<div class="t" style="left:954.20px;top:550px;font-size:13.8px;line-height:13.8px;color:#3b4456;font-weight:normal;font-style:normal;transform-origin:0 0;transform:scaleX(0.9978);"><b style="color:#3a8ad0">Flood Control Infrastructure</b> contributes the highest share of completed projects.</div>
<svg style="position:absolute;left:930px;top:546px;" width="22" height="22" viewBox="0 0 22 22"><rect x="5.1" y="4.8" width="12.4" height="1.3" rx="0.6" fill="#e2aa35"/><rect x="6.9" y="6" width="4.2" height="10.8" fill="#e0a530"/><g fill="#fff3d0"><circle cx="9.3" cy="7.6" r="0.45"/><circle cx="9.3" cy="9.6" r="0.45"/><circle cx="9.3" cy="11.6" r="0.45"/><circle cx="9.3" cy="13.6" r="0.45"/><circle cx="9.3" cy="15.4" r="0.45"/></g><path d="M14.3,6.2 V10" stroke="#8a8a9a" stroke-width="0.9"/><rect x="11.1" y="10.1" width="6.6" height="2.8" fill="#d8304e"/><path d="M12.2,12.8 L14.2,10.2 L16.6,12.8" fill="none" stroke="#3a2040" stroke-width="0.8"/><rect x="4.4" y="16.9" width="13.6" height="1.2" rx="0.6" fill="#ee2a4a"/></svg>
<div class="t" style="left:756.01px;top:600px;font-size:18.3px;line-height:18.3px;color:#252525;font-weight:normal;font-style:normal;transform-origin:0 0;transform:scaleX(0.9926);">Regional Budget and Completion Rate</div>
<div style="left:801.15px;top:636.65px;width:12.70px;height:12.70px;background:#1a85ff;border-radius:50%"></div>
<div class="t" style="left:816.80px;top:636px;font-size:14.8px;line-height:14.8px;color:#555;font-weight:normal;font-style:normal;transform-origin:0 0;transform:scaleX(1.0049);">Total Budget</div>
<div style="left:906.65px;top:636.65px;width:12.70px;height:12.70px;background:#42a5f5;border-radius:50%"></div>
<div class="t" style="left:922.00px;top:636px;font-size:14.8px;line-height:14.8px;color:#555;font-weight:normal;font-style:normal;transform-origin:0 0;transform:scaleX(1.0043);">% Completion</div>
<div style="left:275.10px;top:703.91px;width:46.80px;height:108.89px;background:#3889c7"></div>
<div style="left:348.44px;top:763.15px;width:46.80px;height:49.65px;background:#3889c7"></div>
<div style="left:421.78px;top:764.06px;width:46.80px;height:48.74px;background:#3889c7"></div>
<div style="left:495.12px;top:770.92px;width:46.80px;height:41.88px;background:#3889c7"></div>
<div style="left:568.46px;top:772.82px;width:46.80px;height:39.98px;background:#3889c7"></div>
<div style="left:641.80px;top:774.50px;width:46.80px;height:38.30px;background:#3889c7"></div>
<div style="left:715.14px;top:775.41px;width:46.80px;height:37.39px;background:#3889c7"></div>
<div style="left:788.48px;top:777.47px;width:46.80px;height:35.33px;background:#3889c7"></div>
<div style="left:861.82px;top:783.86px;width:46.80px;height:28.94px;background:#3889c7"></div>
<div style="left:935.16px;top:785.54px;width:46.80px;height:27.26px;background:#3889c7"></div>
<div style="left:1008.50px;top:787.59px;width:46.80px;height:25.21px;background:#3889c7"></div>
<div style="left:1081.84px;top:793.08px;width:46.80px;height:19.72px;background:#3889c7"></div>
<div style="left:1155.18px;top:796.88px;width:46.80px;height:15.92px;background:#3889c7"></div>
<div style="left:1228.52px;top:797.19px;width:46.80px;height:15.61px;background:#3889c7"></div>
<div style="left:1301.86px;top:797.57px;width:46.80px;height:15.23px;background:#3889c7"></div>
<div style="left:1375.20px;top:802.29px;width:46.80px;height:10.51px;background:#3889c7"></div>
<div style="left:1448.54px;top:807.55px;width:46.80px;height:5.25px;background:#3889c7"></div>
<div class="t" style="left:-201.50px;width:1000px;text-align:center;top:820px;font-size:14px;line-height:14px;color:#555;font-weight:normal;font-style:normal;">III</div>
<div class="t" style="left:-128.16px;width:1000px;text-align:center;top:820px;font-size:14px;line-height:14px;color:#555;font-weight:normal;font-style:normal;">V</div>
<div class="t" style="left:-54.82px;width:1000px;text-align:center;top:820px;font-size:14px;line-height:14px;color:#555;font-weight:normal;font-style:normal;">NCR</div>
<div class="t" style="left:18.52px;width:1000px;text-align:center;top:820px;font-size:14px;line-height:14px;color:#555;font-weight:normal;font-style:normal;">II</div>
<div class="t" style="left:91.86px;width:1000px;text-align:center;top:820px;font-size:14px;line-height:14px;color:#555;font-weight:normal;font-style:normal;">VII</div>
<div class="t" style="left:165.20px;width:1000px;text-align:center;top:820px;font-size:14px;line-height:14px;color:#555;font-weight:normal;font-style:normal;">I</div>
<div class="t" style="left:238.54px;width:1000px;text-align:center;top:820px;font-size:14px;line-height:14px;color:#555;font-weight:normal;font-style:normal;">IV-A</div>
<div class="t" style="left:311.88px;width:1000px;text-align:center;top:820px;font-size:14px;line-height:14px;color:#555;font-weight:normal;font-style:normal;">IV-B</div>
<div class="t" style="left:385.22px;width:1000px;text-align:center;top:820px;font-size:14px;line-height:14px;color:#555;font-weight:normal;font-style:normal;">VIII</div>
<div class="t" style="left:458.56px;width:1000px;text-align:center;top:820px;font-size:14px;line-height:14px;color:#555;font-weight:normal;font-style:normal;">VI</div>
<div class="t" style="left:531.90px;width:1000px;text-align:center;top:820px;font-size:14px;line-height:14px;color:#555;font-weight:normal;font-style:normal;">X</div>
<div class="t" style="left:605.24px;width:1000px;text-align:center;top:820px;font-size:14px;line-height:14px;color:#555;font-weight:normal;font-style:normal;">XIII</div>
<div class="t" style="left:678.58px;width:1000px;text-align:center;top:820px;font-size:14px;line-height:14px;color:#555;font-weight:normal;font-style:normal;">XI</div>
<div class="t" style="left:751.92px;width:1000px;text-align:center;top:820px;font-size:14px;line-height:14px;color:#555;font-weight:normal;font-style:normal;">XIV</div>
<div class="t" style="left:825.26px;width:1000px;text-align:center;top:820px;font-size:14px;line-height:14px;color:#555;font-weight:normal;font-style:normal;">IX</div>
<div class="t" style="left:898.60px;width:1000px;text-align:center;top:820px;font-size:14px;line-height:14px;color:#555;font-weight:normal;font-style:normal;">XII</div>
<div class="t" style="left:971.94px;width:1000px;text-align:center;top:820px;font-size:14px;line-height:14px;color:#555;font-weight:normal;font-style:normal;">XV</div>
<div class="t" style="left:1538.80px;top:668px;font-size:13.85px;line-height:13.85px;color:#555;font-weight:normal;font-style:normal;">100%</div>
<div class="t" style="left:1538.80px;top:783px;font-size:13.85px;line-height:13.85px;color:#555;font-weight:normal;font-style:normal;">50%</div>
<svg style="position:absolute;left:0px;top:0px;pointer-events:none" width="1602" height="902" viewBox="0 0 1602 902"><path d="M298.50,716.42 C322.95,714.56 347.39,712.71 371.84,712.71 C396.29,712.71 420.73,714.10 445.18,716.88 C469.63,719.67 494.07,735.83 518.52,742.17 C542.97,748.51 567.41,754.93 591.86,754.93 C616.31,754.93 640.75,744.14 665.20,734.28 C689.65,724.42 714.09,695.77 738.54,695.77 C762.99,695.77 787.43,717.70 811.88,725.00 C836.33,732.31 860.77,739.62 885.22,739.62 C909.67,739.62 934.11,729.99 958.56,725.24 C983.01,720.48 1007.45,714.49 1031.90,711.08 C1056.35,707.68 1080.79,709.00 1105.24,704.82 C1129.69,700.64 1154.13,674.89 1178.58,674.89 C1203.03,674.89 1227.47,731.07 1251.92,750.99 C1276.37,770.90 1300.81,794.37 1325.26,794.37 C1349.71,794.37 1374.15,686.96 1398.60,686.96 C1423.05,686.96 1447.49,704.24 1471.94,721.52" fill="none" stroke="#42a0f2" stroke-width="2.5"/><circle cx="298.50" cy="716.42" r="3.5" fill="#42a0f2"/><circle cx="371.84" cy="712.71" r="3.5" fill="#42a0f2"/><circle cx="445.18" cy="716.88" r="3.5" fill="#42a0f2"/><circle cx="518.52" cy="742.17" r="3.5" fill="#42a0f2"/><circle cx="591.86" cy="754.93" r="3.5" fill="#42a0f2"/><circle cx="665.20" cy="734.28" r="3.5" fill="#42a0f2"/><circle cx="738.54" cy="695.77" r="3.5" fill="#42a0f2"/><circle cx="811.88" cy="725.00" r="3.5" fill="#42a0f2"/><circle cx="885.22" cy="739.62" r="3.5" fill="#42a0f2"/><circle cx="958.56" cy="725.24" r="3.5" fill="#42a0f2"/><circle cx="1031.90" cy="711.08" r="3.5" fill="#42a0f2"/><circle cx="1105.24" cy="704.82" r="3.5" fill="#42a0f2"/><circle cx="1178.58" cy="674.89" r="3.5" fill="#42a0f2"/><circle cx="1251.92" cy="750.99" r="3.5" fill="#42a0f2"/><circle cx="1325.26" cy="794.37" r="3.5" fill="#42a0f2"/><circle cx="1398.60" cy="686.96" r="3.5" fill="#42a0f2"/><circle cx="1471.94" cy="721.52" r="3.5" fill="#42a0f2"/></svg>
<div style="left:258.25px;top:672.70px;width:80.50px;height:23.60px;background:rgba(255,255,255,0.75);border-radius:4px"></div>
<div class="t" style="left:-201.50px;width:1000px;text-align:center;top:678px;font-size:14.2px;line-height:14.2px;color:#444;font-weight:normal;font-style:normal;">₱143.0bn</div>
<div style="left:335.34px;top:732.00px;width:73.00px;height:23.60px;background:rgba(255,255,255,0.75);border-radius:4px"></div>
<div class="t" style="left:-128.16px;width:1000px;text-align:center;top:737px;font-size:14.2px;line-height:14.2px;color:#444;font-weight:normal;font-style:normal;">₱65.2bn</div>
<div style="left:408.68px;top:732.90px;width:73.00px;height:23.60px;background:rgba(255,255,255,0.75);border-radius:4px"></div>
<div class="t" style="left:-54.82px;width:1000px;text-align:center;top:738px;font-size:14.2px;line-height:14.2px;color:#444;font-weight:normal;font-style:normal;">₱64.0bn</div>
<div style="left:482.02px;top:739.70px;width:73.00px;height:23.60px;background:rgba(255,255,255,0.75);border-radius:4px"></div>
<div class="t" style="left:18.52px;width:1000px;text-align:center;top:745px;font-size:14.2px;line-height:14.2px;color:#444;font-weight:normal;font-style:normal;">₱55.0bn</div>
<div style="left:555.36px;top:741.90px;width:73.00px;height:23.60px;background:rgba(255,255,255,0.75);border-radius:4px"></div>
<div class="t" style="left:91.86px;width:1000px;text-align:center;top:747px;font-size:14.2px;line-height:14.2px;color:#444;font-weight:normal;font-style:normal;">₱52.5bn</div>
<div style="left:628.70px;top:743.10px;width:73.00px;height:23.60px;background:rgba(255,255,255,0.75);border-radius:4px"></div>
<div class="t" style="left:165.20px;width:1000px;text-align:center;top:748px;font-size:14.2px;line-height:14.2px;color:#444;font-weight:normal;font-style:normal;">₱50.3bn</div>
<div style="left:702.04px;top:744.00px;width:73.00px;height:23.60px;background:rgba(255,255,255,0.75);border-radius:4px"></div>
<div class="t" style="left:238.54px;width:1000px;text-align:center;top:749px;font-size:14.2px;line-height:14.2px;color:#444;font-weight:normal;font-style:normal;">₱49.1bn</div>
<div style="left:775.38px;top:746.10px;width:73.00px;height:23.60px;background:rgba(255,255,255,0.75);border-radius:4px"></div>
<div class="t" style="left:311.88px;width:1000px;text-align:center;top:751px;font-size:14.2px;line-height:14.2px;color:#444;font-weight:normal;font-style:normal;">₱46.4bn</div>
<div style="left:848.72px;top:752.50px;width:73.00px;height:23.60px;background:rgba(255,255,255,0.75);border-radius:4px"></div>
<div class="t" style="left:385.22px;width:1000px;text-align:center;top:758px;font-size:14.2px;line-height:14.2px;color:#444;font-weight:normal;font-style:normal;">₱38.0bn</div>
<div style="left:922.06px;top:753.70px;width:73.00px;height:23.60px;background:rgba(255,255,255,0.75);border-radius:4px"></div>
<div class="t" style="left:458.56px;width:1000px;text-align:center;top:759px;font-size:14.2px;line-height:14.2px;color:#444;font-weight:normal;font-style:normal;">₱35.8bn</div>
<div style="left:995.40px;top:755.80px;width:73.00px;height:23.60px;background:rgba(255,255,255,0.75);border-radius:4px"></div>
<div class="t" style="left:531.90px;width:1000px;text-align:center;top:761px;font-size:14.2px;line-height:14.2px;color:#444;font-weight:normal;font-style:normal;">₱33.1bn</div>
<div style="left:1068.74px;top:762.00px;width:73.00px;height:23.60px;background:rgba(255,255,255,0.75);border-radius:4px"></div>
<div class="t" style="left:605.24px;width:1000px;text-align:center;top:767px;font-size:14.2px;line-height:14.2px;color:#444;font-weight:normal;font-style:normal;">₱25.9bn</div>
<div style="left:1142.08px;top:765.50px;width:73.00px;height:23.60px;background:rgba(255,255,255,0.75);border-radius:4px"></div>
<div class="t" style="left:678.58px;width:1000px;text-align:center;top:771px;font-size:14.2px;line-height:14.2px;color:#444;font-weight:normal;font-style:normal;">₱20.9bn</div>
<div style="left:1215.42px;top:765.50px;width:73.00px;height:23.60px;background:rgba(255,255,255,0.75);border-radius:4px"></div>
<div class="t" style="left:751.92px;width:1000px;text-align:center;top:771px;font-size:14.2px;line-height:14.2px;color:#444;font-weight:normal;font-style:normal;">₱20.5bn</div>
<div style="left:1288.76px;top:765.50px;width:73.00px;height:23.60px;background:rgba(255,255,255,0.75);border-radius:4px"></div>
<div class="t" style="left:825.26px;width:1000px;text-align:center;top:771px;font-size:14.2px;line-height:14.2px;color:#444;font-weight:normal;font-style:normal;">₱20.0bn</div>
<div style="left:1362.10px;top:771.20px;width:73.00px;height:23.60px;background:rgba(255,255,255,0.75);border-radius:4px"></div>
<div class="t" style="left:898.60px;width:1000px;text-align:center;top:776px;font-size:14.2px;line-height:14.2px;color:#444;font-weight:normal;font-style:normal;">₱13.8bn</div>
<div style="left:1439.94px;top:775.50px;width:64.00px;height:23.60px;background:rgba(255,255,255,0.75);border-radius:4px"></div>
<div class="t" style="left:971.94px;width:1000px;text-align:center;top:781px;font-size:14.2px;line-height:14.2px;color:#444;font-weight:normal;font-style:normal;">₱6.9bn</div>
<div style="left:271.30px;top:728.40px;width:54.40px;height:20.60px;background:rgba(255,255,255,0.72);border-radius:4px"></div>
<div class="t" style="left:-201.50px;width:1000px;text-align:center;top:733px;font-size:12.2px;line-height:12.2px;color:#49a0f6;font-weight:normal;font-style:normal;">81.5%</div>
<div style="left:344.64px;top:680.20px;width:54.40px;height:20.60px;background:rgba(255,255,255,0.72);border-radius:4px"></div>
<div class="t" style="left:-128.16px;width:1000px;text-align:center;top:685px;font-size:12.2px;line-height:12.2px;color:#49a0f6;font-weight:normal;font-style:normal;">83.1%</div>
<div style="left:417.98px;top:684.40px;width:54.40px;height:20.60px;background:rgba(255,255,255,0.72);border-radius:4px"></div>
<div class="t" style="left:-54.82px;width:1000px;text-align:center;top:689px;font-size:12.2px;line-height:12.2px;color:#49a0f6;font-weight:normal;font-style:normal;">81.3%</div>
<div style="left:491.32px;top:710.50px;width:54.40px;height:20.60px;background:rgba(255,255,255,0.72);border-radius:4px"></div>
<div class="t" style="left:18.52px;width:1000px;text-align:center;top:715px;font-size:12.2px;line-height:12.2px;color:#49a0f6;font-weight:normal;font-style:normal;">70.4%</div>
<div style="left:564.66px;top:767.70px;width:54.40px;height:20.60px;background:rgba(255,255,255,0.72);border-radius:4px"></div>
<div class="t" style="left:91.86px;width:1000px;text-align:center;top:772px;font-size:12.2px;line-height:12.2px;color:#49a0f6;font-weight:normal;font-style:normal;">64.9%</div>
<div style="left:638.00px;top:701.90px;width:54.40px;height:20.60px;background:rgba(255,255,255,0.72);border-radius:4px"></div>
<div class="t" style="left:165.20px;width:1000px;text-align:center;top:706px;font-size:12.2px;line-height:12.2px;color:#49a0f6;font-weight:normal;font-style:normal;">73.8%</div>
<div style="left:711.34px;top:708.30px;width:54.40px;height:20.60px;background:rgba(255,255,255,0.72);border-radius:4px"></div>
<div class="t" style="left:238.54px;width:1000px;text-align:center;top:713px;font-size:12.2px;line-height:12.2px;color:#49a0f6;font-weight:normal;font-style:normal;">90.4%</div>
<div style="left:784.68px;top:692.10px;width:54.40px;height:20.60px;background:rgba(255,255,255,0.72);border-radius:4px"></div>
<div class="t" style="left:311.88px;width:1000px;text-align:center;top:697px;font-size:12.2px;line-height:12.2px;color:#49a0f6;font-weight:normal;font-style:normal;">77.8%</div>
<div style="left:858.02px;top:707.10px;width:54.40px;height:20.60px;background:rgba(255,255,255,0.72);border-radius:4px"></div>
<div class="t" style="left:385.22px;width:1000px;text-align:center;top:712px;font-size:12.2px;line-height:12.2px;color:#49a0f6;font-weight:normal;font-style:normal;">71.5%</div>
<div style="left:931.36px;top:692.70px;width:54.40px;height:20.60px;background:rgba(255,255,255,0.72);border-radius:4px"></div>
<div class="t" style="left:458.56px;width:1000px;text-align:center;top:697px;font-size:12.2px;line-height:12.2px;color:#49a0f6;font-weight:normal;font-style:normal;">77.7%</div>
<div style="left:1004.70px;top:678.30px;width:54.40px;height:20.60px;background:rgba(255,255,255,0.72);border-radius:4px"></div>
<div class="t" style="left:531.90px;width:1000px;text-align:center;top:683px;font-size:12.2px;line-height:12.2px;color:#49a0f6;font-weight:normal;font-style:normal;">83.8%</div>
<div style="left:1078.04px;top:672.10px;width:54.40px;height:20.60px;background:rgba(255,255,255,0.72);border-radius:4px"></div>
<div class="t" style="left:605.24px;width:1000px;text-align:center;top:677px;font-size:12.2px;line-height:12.2px;color:#49a0f6;font-weight:normal;font-style:normal;">86.5%</div>
<div style="left:1151.38px;top:686.10px;width:54.40px;height:20.60px;background:rgba(255,255,255,0.72);border-radius:4px"></div>
<div class="t" style="left:678.58px;width:1000px;text-align:center;top:691px;font-size:12.2px;line-height:12.2px;color:#49a0f6;font-weight:normal;font-style:normal;">99.4%</div>
<div style="left:1224.72px;top:718.00px;width:54.40px;height:20.60px;background:rgba(255,255,255,0.72);border-radius:4px"></div>
<div class="t" style="left:751.92px;width:1000px;text-align:center;top:723px;font-size:12.2px;line-height:12.2px;color:#49a0f6;font-weight:normal;font-style:normal;">66.6%</div>
<div style="left:1298.06px;top:795.40px;width:54.40px;height:20.60px;background:rgba(255,255,255,0.72);border-radius:4px"></div>
<div class="t" style="left:825.26px;width:1000px;text-align:center;top:800px;font-size:12.2px;line-height:12.2px;color:#49a0f6;font-weight:normal;font-style:normal;">47.9%</div>
<div style="left:1371.40px;top:699.20px;width:54.40px;height:20.60px;background:rgba(255,255,255,0.72);border-radius:4px"></div>
<div class="t" style="left:898.60px;width:1000px;text-align:center;top:704px;font-size:12.2px;line-height:12.2px;color:#49a0f6;font-weight:normal;font-style:normal;">94.2%</div>
<div style="left:1444.74px;top:732.90px;width:54.40px;height:20.60px;background:rgba(255,255,255,0.72);border-radius:4px"></div>
<div class="t" style="left:971.94px;width:1000px;text-align:center;top:738px;font-size:12.2px;line-height:12.2px;color:#49a0f6;font-weight:normal;font-style:normal;">79.3%</div>
<div style="left:515.70px;top:850.80px;width:829.20px;height:32.70px;background:#fdfeff;border-radius:5px"></div>
<div class="t" style="left:516.80px;top:856px;font-size:13.8px;line-height:13.8px;color:#3b4456;font-weight:normal;font-style:normal;transform-origin:0 0;transform:scaleX(1.0007);">Region <b style="color:#2e86c1">III</b> received the highest budget (<b style="color:#2e86c1">₱143.0B</b>) with a <b style="color:#2e86c1">81.5%</b> completion rate, while <b style="color:#2e86c1">XI</b> achieved the highest performance at <b style="color:#2e86c1">99.4%</b>.</div>
</body></html>
